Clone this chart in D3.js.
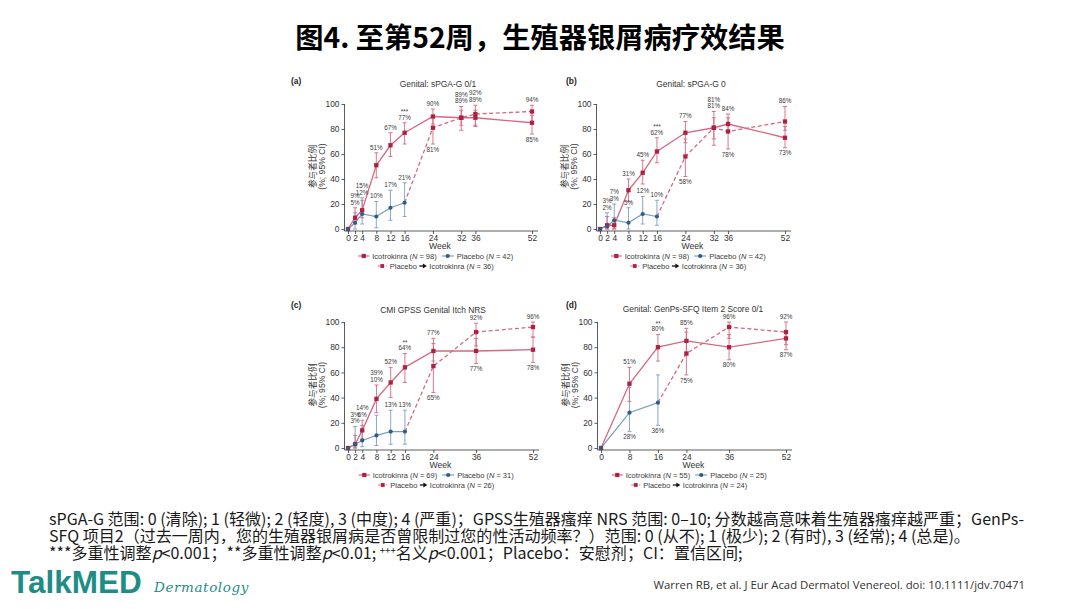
<!DOCTYPE html>
<html><head><meta charset="utf-8">
<script src="https://cdn.jsdelivr.net/npm/d3@7"></script>
<style>html,body{margin:0;padding:0;background:#fff}svg{display:block}</style>
</head><body>
<svg id="c" width="1080" height="609"></svg>
<script>
// ---------------- DATA ----------------
const yTicks = [0,20,40,60,80,100];
const weeksAB = [0,2,4,8,12,16,24,32,36,52];
const weeksC  = [0,2,4,8,12,16,24,36,52];
const weeksD  = [0,8,16,24,36,52];
const plaWeeksABC = [0,2,4,8,12,16];
const plaWeeksD   = [0,8,16];
const crossWeeksAB = [24,32,36,52];
const crossWeeksCD = [24,36,52];

// (a) Genital: sPGA-G 0/1
const icoA    = [0,9,15,51,67,77,90,89,89,85];
const icoALo  = [0,4,9,41,58,68,84,83,82,76];
const icoAHi  = [0,17,23,61,77,85,96,95,95,91];
const plaA    = [0,5,12,10,17,21];
const plaALo  = [0,0,4,1,7,10];
const plaAHi  = [0,13,25,22,31,37];
const crossA   = [81,89,92,94];
const crossALo = [68,79,83,86];
const crossAHi = [90,98,99,99];

// (b) Genital: sPGA-G 0
const icoB    = [0,3,3,31,45,62,77,81,84,73];
const icoBLo  = [0,0,0,22,36,53,69,72,78,65];
const icoBHi  = [0,10,9,40,55,73,86,89,92,82];
const plaB    = [0,2,7,5,12,10];
const plaBLo  = [0,0,0,0,4,3];
const plaBHi  = [0,13,20,17,26,23];
const crossB   = [58,81,78,86];
const crossBLo = [42,67,64,79];
const crossBHi = [72,94,89,98];

// (c) CMI GPSS Genital Itch NRS
const icoC    = [0,3,14,39,52,64,77,77,78];
const icoCLo  = [0,0,7,28,40,52,69,67,68];
const icoCHi  = [0,10,22,50,64,75,87,87,88];
const plaC    = [0,3,6,10,13,13];
const plaCLo  = [0,0,1,2,3,3];
const plaCHi  = [0,17,18,26,30,30];
const crossC   = [65,92,96];
const crossCLo = [44,81,88];
const crossCHi = [83,99,100];

// (d) Genital: GenPs-SFQ Item 2 Score 0/1
const icoD    = [0,51,80,85,80,87];
const icoDLo  = [0,37,69,74,70,78];
const icoDHi  = [0,64,90,95,90,93];
const plaD    = [0,28,36];
const plaDLo  = [0,13,18];
const plaDHi  = [0,48,58];
const crossD   = [75,96,92];
const crossDLo = [58,87,82];
const crossDHi = [92,100,100];

const titles = ['Genital: sPGA-G 0/1','Genital: sPGA-G 0','CMI GPSS Genital Itch NRS','Genital: GenPs-SFQ Item 2 Score 0/1'];
const tags = ['(a)','(b)','(c)','(d)'];
const sigs = ['***','***','**','**'];
const nIco = [98,98,69,55];
const nPla = [42,42,31,25];
const nCross = [36,36,26,24];

const mainTitle = '图4. 至第52周，生殖器银屑病疗效结果';
const yLabel1 = '参与者比例';
const yLabel2 = '(%; 95% CI)';
const citation = 'Warren RB, et al. J Eur Acad Dermatol Venereol. doi: 10.1111/jdv.70471';

// ---------------- SETUP ----------------
const svg = d3.select('#c');
const CJK = '"Noto Sans CJK SC","Noto Sans",sans-serif';
const SANS = '"Liberation Sans",Arial,sans-serif';
const COL = {icoM:'#ae2142', icoL:'#d6687f', plaM:'#2d5c89', plaL:'#7b9fc2', ax:'#333', txt:'#3a3a3a'};

// main title
(function(){
  const t = svg.append('text').attr('x',540).attr('y',48).attr('text-anchor','middle')
    .attr('font-family',CJK).attr('font-weight',700).attr('font-size',28).attr('fill','#000').text(mainTitle);
  const w = t.node().getComputedTextLength();
  const fs = Math.max(24, Math.min(32, 28*490/w));
  t.attr('font-size',fs);
})();

const layouts = [
  {x0:348, x52:532, y0:229, y100:104, tagX:291, titleX:438, titleY:84, weeks:weeksAB, plaWeeks:plaWeeksABC, crossWeeks:crossWeeksAB, placeboBelow:false},
  {x0:600, x52:785, y0:229, y100:104, tagX:566, titleX:691, titleY:84, weeks:weeksAB, plaWeeks:plaWeeksABC, crossWeeks:crossWeeksAB, placeboBelow:false},
  {x0:348, x52:533, y0:448, y100:322, tagX:291, titleX:433, titleY:310, tagY:305, weeks:weeksC, plaWeeks:plaWeeksABC, crossWeeks:crossWeeksCD, placeboBelow:false},
  {x0:601, x52:786, y0:448, y100:322, tagX:566, titleX:693, titleY:309, tagY:305, weeks:weeksD, plaWeeks:plaWeeksD, crossWeeks:crossWeeksCD, placeboBelow:true}
];
const series = [
  {ico:icoA, icoLo:icoALo, icoHi:icoAHi, pla:plaA, plaLo:plaALo, plaHi:plaAHi, cr:crossA, crLo:crossALo, crHi:crossAHi},
  {ico:icoB, icoLo:icoBLo, icoHi:icoBHi, pla:plaB, plaLo:plaBLo, plaHi:plaBHi, cr:crossB, crLo:crossBLo, crHi:crossBHi},
  {ico:icoC, icoLo:icoCLo, icoHi:icoCHi, pla:plaC, plaLo:plaCLo, plaHi:plaCHi, cr:crossC, crLo:crossCLo, crHi:crossCHi},
  {ico:icoD, icoLo:icoDLo, icoHi:icoDHi, pla:plaD, plaLo:plaDLo, plaHi:plaDHi, cr:crossD, crLo:crossDLo, crHi:crossDHi}
];

function drawPanel(k){
  const L = layouts[k], S = series[k];
  const g = svg.append('g');
  const x = d3.scaleLinear().domain([0,52]).range([L.x0,L.x52]);
  const y = d3.scaleLinear().domain([0,100]).range([L.y0,L.y100]);
  const axX = x(0)-3.5, axY = y(0)+2;

  // tag + title
  g.append('text').attr('x',L.tagX).attr('y',(L.tagY||L.titleY-3)+3).attr('font-family',SANS).attr('font-weight',700)
    .attr('font-size',8.4).attr('fill','#222').text(tags[k]);
  g.append('text').attr('x',L.titleX).attr('y',L.titleY+3).attr('text-anchor','middle').attr('font-family',SANS)
    .attr('font-size',8.4).attr('fill','#333').text(titles[k]);

  // axes
  const ya = g.append('g').attr('transform',`translate(${axX},0)`)
    .call(d3.axisLeft(y).tickValues(yTicks).tickSize(3).tickPadding(2));
  const xa = g.append('g').attr('transform',`translate(0,${axY})`)
    .call(d3.axisBottom(x).tickValues(L.weeks).tickSize(3).tickPadding(1.2));
  [ya,xa].forEach(a=>{
    a.select('.domain').remove();
    a.selectAll('line').attr('stroke',COL.ax).attr('stroke-width',0.8);
    a.selectAll('text').attr('font-family',SANS).attr('font-size',8.4).attr('fill','#333');
  });
  g.append('line').attr('x1',axX).attr('x2',axX).attr('y1',y(100)).attr('y2',axY).attr('stroke',COL.ax).attr('stroke-width',0.8);
  g.append('line').attr('x1',axX).attr('x2',x(52)+6).attr('y1',axY).attr('y2',axY).attr('stroke',COL.ax).attr('stroke-width',0.8);
  g.append('text').attr('x',(x(0)+x(52))/2).attr('y',L.y0+20).attr('text-anchor','middle').attr('font-family',SANS)
    .attr('font-size',8.6).attr('fill','#333').text('Week');
  const midY = (y(0)+y(100))/2;
  g.append('text').attr('transform',`translate(${axX-28.5},${midY}) rotate(-90)`).attr('text-anchor','middle')
    .attr('font-family',CJK).attr('font-size',8.6).attr('fill','#333').text(yLabel1);
  g.append('text').attr('transform',`translate(${axX-20},${midY}) rotate(-90)`).attr('text-anchor','middle')
    .attr('font-family',SANS).attr('font-size',8.6).attr('fill','#333').text(yLabel2);

  // points
  const ico = L.weeks.map((w,i)=>({w, v:S.ico[i], lo:S.icoLo[i], hi:S.icoHi[i]}));
  const pla = L.plaWeeks.map((w,i)=>({w, v:S.pla[i], lo:S.plaLo[i], hi:S.plaHi[i]}));
  const cr = L.crossWeeks.map((w,i)=>({w, v:S.cr[i], lo:S.crLo[i], hi:S.crHi[i]}));
  const crLine = [pla[pla.length-1]].concat(cr);
  const line = d3.line().x(d=>x(d.w)).y(d=>y(d.v));

  g.append('path').attr('d',line(pla)).attr('fill','none').attr('stroke',COL.plaL).attr('stroke-width',1.2);
  g.append('path').attr('d',line(ico)).attr('fill','none').attr('stroke',COL.icoL).attr('stroke-width',1.3);
  g.append('path').attr('d',line(crLine)).attr('fill','none').attr('stroke',COL.icoL).attr('stroke-width',1.3).attr('stroke-dasharray','4,2.6');

  function errBars(pts,color){
    pts.filter(d=>d.w>0).forEach(d=>{
      const cx = x(d.w);
      g.append('line').attr('x1',cx).attr('x2',cx).attr('y1',y(d.lo)).attr('y2',y(d.hi)).attr('stroke',color).attr('stroke-width',0.9);
      [d.lo,d.hi].forEach(v=>g.append('line').attr('x1',cx-2).attr('x2',cx+2).attr('y1',y(v)).attr('y2',y(v)).attr('stroke',color).attr('stroke-width',0.9));
    });
  }
  errBars(pla,COL.plaL); errBars(ico,COL.icoL); errBars(cr,COL.icoL);

  function squares(pts,s){
    g.selectAll(null).data(pts).join('rect').attr('x',d=>x(d.w)-s/2).attr('y',d=>y(d.v)-s/2)
      .attr('width',s).attr('height',s).attr('fill',COL.icoM);
  }
  squares(ico,4.3); squares(cr,4.3);
  g.selectAll(null).data(pla).join('circle').attr('cx',d=>x(d.w)).attr('cy',d=>y(d.v)).attr('r',2.1).attr('fill',COL.plaM);

  // labels
  const LF = 6.3;
  function lab(w,by,v){
    g.append('text').attr('x',x(w)).attr('y',by).attr('text-anchor','middle').attr('font-family',SANS)
      .attr('font-size',LF).attr('fill',COL.txt).text(v+'%');
  }
  const above = v=>y(v)-3.2, below = v=>y(v)+7.6, STEP = 6.6;
  ico.forEach((d,i)=>{
    if(d.w===0) return;
    const p = pla.find(q=>q.w===d.w), c = cr.find(q=>q.w===d.w);
    let icoBase;
    if(p){
      if(L.placeboBelow){
        icoBase = above(d.hi); lab(d.w,icoBase,d.v); lab(p.w,below(p.lo),p.v);
      } else if(d.lo < p.hi + 4){
        const b = above(Math.max(d.hi,p.hi));
        const hiFirst = d.v >= p.v;
        lab(d.w,b,hiFirst?p.v:d.v); lab(d.w,b-STEP,hiFirst?d.v:p.v);
        icoBase = hiFirst ? b-STEP : b;
      } else {
        icoBase = above(d.hi); lab(d.w,icoBase,d.v); lab(p.w,above(p.hi),p.v);
      }
    } else if(c){
      if(Math.abs(d.v-c.v) < 4){
        const b = above(Math.max(d.hi,c.hi));
        const top = Math.max(d.v,c.v), bot = Math.min(d.v,c.v);
        lab(d.w,b,bot); lab(d.w,b-STEP,top);
      } else if(d.v > c.v){
        lab(d.w,above(d.hi),d.v); lab(d.w,below(c.lo),c.v);
      } else {
        lab(d.w,above(c.hi),c.v); lab(d.w,below(d.lo),d.v);
      }
    }
    if(d.w===16){
      g.append('text').attr('x',x(16)).attr('y',icoBase-5.2).attr('text-anchor','middle').attr('font-family',SANS)
        .attr('font-size',6.5).attr('fill',COL.txt).text(sigs[k]);
    }
  });

  // legend
  const LFS = 7.5;
  const cxm = (x(0)+x(52))/2 - 4;
  function legendRow(yy, build){
    const lg = g.append('g');
    build(lg);
    const bb = lg.node().getBBox();
    lg.attr('transform',`translate(${cxm - (bb.x + bb.width/2)},${yy})`);
  }
  function addText(lg, xx, parts){
    const t = lg.append('text').attr('x',xx).attr('y',2.6).attr('font-family',SANS).attr('font-size',LFS).attr('fill',COL.txt);
    parts.forEach(p=>t.append('tspan').attr('font-style',p.i?'italic':null).text(p.t));
    return t.node().getComputedTextLength();
  }
  const nParts = (name,n)=>[{t:name+' ('},{t:'N',i:1},{t:' = '+n+')'}];
  legendRow(L.y0+27, (lg)=>{
    lg.append('line').attr('x1',0).attr('x2',11).attr('y1',0).attr('y2',0).attr('stroke',COL.icoL).attr('stroke-width',1.2);
    lg.append('rect').attr('x',3.4).attr('y',-2.1).attr('width',4.2).attr('height',4.2).attr('fill',COL.icoM);
    let xx = 14;
    xx += addText(lg,xx,nParts('Icotrokinra',nIco[k])) + 5;
    lg.append('line').attr('x1',xx).attr('x2',xx+12).attr('y1',0).attr('y2',0).attr('stroke',COL.plaL).attr('stroke-width',1.2);
    lg.append('circle').attr('cx',xx+6).attr('cy',0).attr('r',2.1).attr('fill',COL.plaM);
    xx += 15;
    addText(lg,xx,nParts('Placebo',nPla[k]));
  });
  legendRow(L.y0+37, (lg)=>{
    lg.append('line').attr('x1',0).attr('x2',9).attr('y1',0).attr('y2',0).attr('stroke',COL.icoL).attr('stroke-width',1.2).attr('stroke-dasharray','2.5,1.5');
    lg.append('rect').attr('x',2.6).attr('y',-1.9).attr('width',3.8).attr('height',3.8).attr('fill',COL.icoM);
    let xx = 12;
    xx += addText(lg,xx,[{t:'Placebo'}]) + 2.5;
    lg.append('path').attr('d',`M${xx},0 L${xx+4.5},0`).attr('stroke','#111').attr('stroke-width',1.3);
    lg.append('path').attr('d',`M${xx+3.5},-2.4 L${xx+7.5},0 L${xx+3.5},2.4 Z`).attr('fill','#111');
    xx += 10;
    addText(lg,xx,nParts('Icotrokinra',nCross[k]));
  });
}
[0,1,2,3].forEach(drawPanel);

// ---------------- FOOTNOTES ----------------
const fn = svg.append('g').attr('font-family',CJK).attr('fill','#1a1a1a');
const l1 = fn.append('text').attr('x',49).attr('y',525).attr('font-size',15)
  .text('sPGA-G 范围: 0 (清除); 1 (轻微); 2 (轻度), 3 (中度); 4 (严重)；GPSS生殖器瘙痒 NRS 范围: 0–10; 分数越高意味着生殖器瘙痒越严重；GenPs-');
const w1 = l1.node().getComputedTextLength();
const fs = Math.max(12, Math.min(17, 15*976/w1));
l1.attr('font-size',fs);
fn.append('text').attr('x',49).attr('y',542).attr('font-size',fs)
  .text('SFQ 项目2（过去一周内，您的生殖器银屑病是否曾限制过您的性活动频率？）范围: 0 (从不); 1 (极少); 2 (有时), 3 (经常); 4 (总是)。');
const l3 = fn.append('text').attr('x',49).attr('y',559).attr('font-size',fs);
l3.append('tspan').text('***多重性调整');
l3.append('tspan').attr('font-style','italic').text('p');
l3.append('tspan').text('<0.001；**多重性调整');
l3.append('tspan').attr('font-style','italic').text('p');
l3.append('tspan').text('<0.01; ');
l3.append('tspan').attr('font-size',fs*0.6).attr('dy',-fs*0.3).text('+++');
l3.append('tspan').attr('dy',fs*0.3).text('名义');
l3.append('tspan').attr('font-style','italic').text('p');
l3.append('tspan').text('<0.001；Placebo：安慰剂；CI：置信区间;');

// citation
const ct = svg.append('text').attr('x',1025).attr('y',589).attr('text-anchor','end').attr('font-family','"Open Sans","Noto Sans",sans-serif')
  .attr('font-size',12.5).attr('fill','#333').text(citation);
const wc = ct.node().getComputedTextLength();
ct.attr('font-size', Math.max(10, Math.min(14, 12.5*372/wc)));

// logo
svg.append('text').attr('x',11).attr('y',593).attr('font-family','"Liberation Sans",Arial,sans-serif').attr('font-weight',700)
  .attr('font-size',31.5).attr('fill','#1d8d85').text('TalkMED');
svg.append('text').attr('x',154).attr('y',592).attr('font-family','"DejaVu Serif",serif').attr('font-style','italic')
  .attr('font-size',13.5).attr('fill','#1d8d85').attr('letter-spacing',0.6).text('Dermatology');
</script>
</body></html>
